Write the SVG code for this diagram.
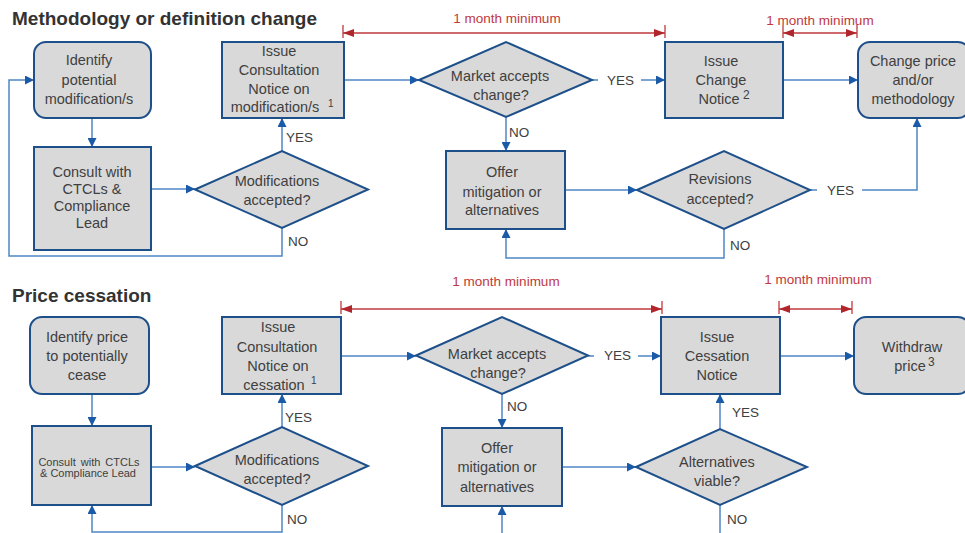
<svg xmlns="http://www.w3.org/2000/svg" width="965" height="533" viewBox="0 0 965 533">
<style>
.bg{fill:#ffffff}
.box{fill:#d9d9d9;stroke:#1d4f8a;stroke-width:2}
.t{font-family:"Liberation Sans",Arial,sans-serif;font-size:14.5px;fill:#404040;text-anchor:middle}
.ts{font-family:"Liberation Sans",Arial,sans-serif;font-size:11px;fill:#404040;text-anchor:middle}
.sup{font-family:"Liberation Sans",Arial,sans-serif;fill:#404040}
.lbl{font-family:"Liberation Sans",Arial,sans-serif;font-size:13.5px;fill:#404040}
.title{font-family:"Liberation Sans",Arial,sans-serif;font-size:19px;font-weight:bold;fill:#333333}
.red{font-family:"Liberation Sans",Arial,sans-serif;font-size:13.5px;fill:#c0383c;text-anchor:middle}
.c{fill:none;stroke:#4f86c6;stroke-width:1.5}
.ca{fill:none;stroke:#4f86c6;stroke-width:1.5;marker-end:url(#ah)}
.dim{fill:none;stroke:#c0383c;stroke-width:1.3;marker-start:url(#rh);marker-end:url(#rh)}
.tick{stroke:#c0383c;stroke-width:1.3}
</style>
<defs>
<marker id="ah" viewBox="0 0 10 10" refX="10" refY="5" markerWidth="9" markerHeight="9" markerUnits="userSpaceOnUse" orient="auto">
<path d="M0,0 L10,5 L0,10 z" fill="#1a5aa6"/>
</marker>
<marker id="rh" viewBox="0 0 10 10" refX="10" refY="5" markerWidth="11" markerHeight="8" markerUnits="userSpaceOnUse" orient="auto-start-reverse" preserveAspectRatio="none">
<path d="M0,0 L10,5 L0,10 z" fill="#b0262c"/>
</marker>
</defs>
<rect class="bg" x="0" y="0" width="965" height="533"/>

<text class="title" x="12" y="25">Methodology or definition change</text>
<text class="title" x="12" y="302">Price cessation</text>

<g id="timing">
<text class="red" x="507" y="23">1 month minimum</text>
<line class="dim" x1="343" y1="33" x2="665" y2="33"/>
<line class="tick" x1="343" y1="25" x2="343" y2="38"/>
<line class="tick" x1="665" y1="25" x2="665" y2="38"/>
<text class="red" x="820" y="25">1 month minimum</text>
<line class="dim" x1="783" y1="33" x2="857" y2="33"/>
<line class="tick" x1="783" y1="25" x2="783" y2="38"/>
<line class="tick" x1="857" y1="25" x2="857" y2="38"/>
<text class="red" x="506" y="286">1 month minimum</text>
<line class="dim" x1="341" y1="309" x2="662" y2="309"/>
<line class="tick" x1="341" y1="301" x2="341" y2="314"/>
<line class="tick" x1="662" y1="301" x2="662" y2="314"/>
<text class="red" x="818" y="284">1 month minimum</text>
<line class="dim" x1="779" y1="309" x2="852" y2="309"/>
<line class="tick" x1="779" y1="301" x2="779" y2="314"/>
<line class="tick" x1="852" y1="301" x2="852" y2="314"/>
</g>

<g id="connectors">
<!-- top section -->
<line class="ca" x1="92" y1="118" x2="92" y2="147"/>
<line class="ca" x1="151" y1="189" x2="195" y2="189"/>
<line class="ca" x1="282" y1="151" x2="282" y2="118"/>
<polyline class="ca" points="282,228 282,256 9,256 9,80 34,80"/>
<line class="ca" x1="344" y1="80" x2="419" y2="80"/>
<line class="c" x1="592" y1="80" x2="598" y2="80"/>
<line class="ca" x1="641" y1="80" x2="665" y2="80"/>
<line class="ca" x1="783" y1="80" x2="858" y2="80"/>
<line class="ca" x1="506" y1="117" x2="506" y2="151"/>
<line class="ca" x1="565" y1="190" x2="637" y2="190"/>
<line class="c" x1="810" y1="190" x2="817" y2="190"/>
<polyline class="ca" points="862,190 917,190 917,118"/>
<polyline class="ca" points="724,229 724,258 506,258 506,229"/>
<!-- bottom section -->
<line class="ca" x1="92" y1="394" x2="92" y2="426"/>
<line class="ca" x1="151" y1="467" x2="195" y2="467"/>
<line class="ca" x1="282" y1="427" x2="282" y2="394"/>
<polyline class="ca" points="282,505 282,532 92,532 92,505"/>
<line class="ca" x1="341" y1="356" x2="416" y2="356"/>
<line class="c" x1="588" y1="356" x2="594" y2="356"/>
<line class="ca" x1="638" y1="356" x2="661" y2="356"/>
<line class="ca" x1="780" y1="356" x2="854" y2="356"/>
<line class="ca" x1="502" y1="394" x2="502" y2="428"/>
<line class="ca" x1="562" y1="467" x2="636" y2="467"/>
<line class="ca" x1="502" y1="533" x2="502" y2="506"/>
<line class="ca" x1="720" y1="429" x2="720" y2="394"/>
<line class="c" x1="720" y1="505" x2="720" y2="533"/>
<!-- labels -->
<text class="lbl" x="286" y="142">YES</text>
<text class="lbl" x="288" y="246">NO</text>
<text class="lbl" x="607" y="85">YES</text>
<text class="lbl" x="509" y="137">NO</text>
<text class="lbl" x="827" y="195">YES</text>
<text class="lbl" x="730" y="250">NO</text>
<text class="lbl" x="285" y="422">YES</text>
<text class="lbl" x="287" y="524">NO</text>
<text class="lbl" x="604" y="360">YES</text>
<text class="lbl" x="507" y="411">NO</text>
<text class="lbl" x="732" y="417">YES</text>
<text class="lbl" x="727" y="524">NO</text>
</g>

<!-- top section nodes -->
<g id="identify1">
<rect class="box" x="34" y="42" width="117" height="76" rx="12"/>
<text class="t" x="89" y="65">Identify</text>
<text class="t" x="89" y="85">potential</text>
<text class="t" x="89" y="104">modification/s</text>
</g>
<g id="consult1">
<rect class="box" x="34" y="147" width="117" height="103"/>
<text class="t" x="92" y="177">Consult with</text>
<text class="t" x="92" y="194">CTCLs &amp;</text>
<text class="t" x="92" y="211">Compliance</text>
<text class="t" x="92" y="228">Lead</text>
</g>
<g id="modacc1">
<polygon class="box" points="195,189.5 282,151 368,189.5 282,228"/>
<text class="t" x="277" y="186">Modifications</text>
<text class="t" x="277" y="205">accepted?</text>
</g>
<g id="consultnotice1">
<rect class="box" x="222" y="42" width="122" height="76"/>
<text class="t" x="279" y="56">Issue</text>
<text class="t" x="279" y="75">Consultation</text>
<text class="t" x="279" y="94">Notice on</text>
<text class="t" x="275" y="112">modification/s</text>
<text class="sup" x="328" y="107" font-size="10">1</text>
</g>
<g id="market1">
<polygon class="box" points="419,80 506,42 592,80 506,117"/>
<text class="t" x="500" y="81">Market accepts</text>
<text class="t" x="501" y="100">change?</text>
</g>
<g id="changenotice">
<rect class="box" x="665" y="42" width="118" height="76"/>
<text class="t" x="721" y="66">Issue</text>
<text class="t" x="721" y="85">Change</text>
<text class="t" x="719" y="104">Notice</text>
<text class="sup" x="743" y="99" font-size="12">2</text>
</g>
<g id="changeprice">
<rect class="box" x="858" y="42" width="112" height="76" rx="12"/>
<text class="t" x="913" y="66">Change price</text>
<text class="t" x="913" y="85">and/or</text>
<text class="t" x="913" y="104">methodology</text>
</g>
<g id="offer1">
<rect class="box" x="446" y="151" width="119" height="78"/>
<text class="t" x="502" y="177">Offer</text>
<text class="t" x="502" y="197">mitigation or</text>
<text class="t" x="502" y="215">alternatives</text>
</g>
<g id="revisions">
<polygon class="box" points="637,190 724,151 810,190 724,229"/>
<text class="t" x="720" y="184">Revisions</text>
<text class="t" x="720" y="204">accepted?</text>
</g>

<!-- bottom section nodes -->
<g id="identify2">
<rect class="box" x="30" y="317" width="119" height="77" rx="12"/>
<text class="t" x="87" y="342">Identify price</text>
<text class="t" x="87" y="361">to potentially</text>
<text class="t" x="87" y="380">cease</text>
</g>
<g id="consult2">
<rect class="box" x="32" y="426" width="119" height="79"/>
<text class="ts" x="89" y="466" word-spacing="2">Consult with CTCLs</text>
<text class="ts" x="88" y="477">&amp; Compliance Lead</text>
</g>
<g id="modacc2">
<polygon class="box" points="195,466 282,427 368,466 282,505"/>
<text class="t" x="277" y="465">Modifications</text>
<text class="t" x="277" y="484">accepted?</text>
</g>
<g id="consultnotice2">
<rect class="box" x="222" y="317" width="119" height="77"/>
<text class="t" x="278" y="332">Issue</text>
<text class="t" x="277" y="352">Consultation</text>
<text class="t" x="278" y="371">Notice on</text>
<text class="t" x="274" y="390">cessation</text>
<text class="sup" x="311" y="384" font-size="10">1</text>
</g>
<g id="market2">
<polygon class="box" points="416,355.5 502,317 588,355.5 502,394"/>
<text class="t" x="497" y="359">Market accepts</text>
<text class="t" x="498" y="378">change?</text>
</g>
<g id="cessationnotice">
<rect class="box" x="661" y="317" width="119" height="77"/>
<text class="t" x="717" y="342">Issue</text>
<text class="t" x="717" y="361">Cessation</text>
<text class="t" x="717" y="380">Notice</text>
</g>
<g id="withdraw">
<rect class="box" x="854" y="317" width="116" height="77" rx="12"/>
<text class="t" x="912" y="352">Withdraw</text>
<text class="t" x="910" y="371">price</text>
<text class="sup" x="928" y="366" font-size="12">3</text>
</g>
<g id="offer2">
<rect class="box" x="442" y="428" width="120" height="78"/>
<text class="t" x="497" y="453">Offer</text>
<text class="t" x="497" y="472">mitigation or</text>
<text class="t" x="497" y="492">alternatives</text>
</g>
<g id="alternatives">
<polygon class="box" points="636,467 720,429 807,467 720,505"/>
<text class="t" x="717" y="467">Alternatives</text>
<text class="t" x="717" y="486">viable?</text>
</g>
</svg>
